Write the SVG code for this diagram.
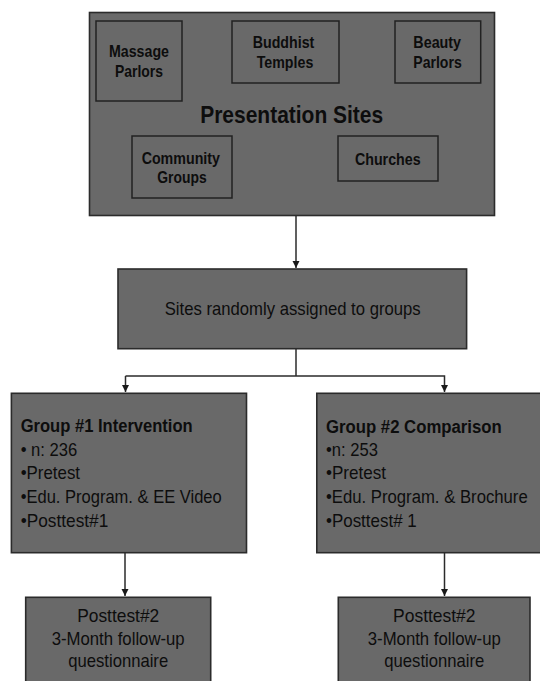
<svg xmlns="http://www.w3.org/2000/svg" width="540" height="681" viewBox="0 0 540 681">
<defs>
<style>
.box{fill:#696969;stroke:#2b2b2b;stroke-width:1.6}
.inner{fill:#696969;stroke:#222;stroke-width:1.5}
.t{font-family:"Liberation Sans",Arial,sans-serif;fill:#0d0d0d}
.c{text-anchor:middle}
.lbl{font-size:17px;font-weight:bold}
.reg{font-size:19px}
.b{font-weight:bold}
.conn{fill:none;stroke:#2b2b2b;stroke-width:1.5}
</style>
<marker id="ah" markerUnits="userSpaceOnUse" markerWidth="8" markerHeight="9" refX="7" refY="4" orient="auto">
<path d="M0,0.5 L7,4 L0,7.5 Z" fill="#1a1a1a"/>
</marker>
</defs>
<rect width="540" height="681" fill="#fff"/>

<g id="connectors">
<line class="conn" x1="296" y1="216" x2="296" y2="268" marker-end="url(#ah)"/>
<polyline class="conn" points="296,349 296,376"/>
<polyline class="conn" points="125.5,376 444.5,376 444.5,392" marker-end="url(#ah)"/>
<line class="conn" x1="125.5" y1="376" x2="125.5" y2="392" marker-end="url(#ah)"/>
<line class="conn" x1="125" y1="553" x2="125" y2="596" marker-end="url(#ah)"/>
<line class="conn" x1="444.5" y1="553" x2="444.5" y2="596" marker-end="url(#ah)"/>
</g>

<g id="presentation-sites">
<rect class="box" x="89.5" y="12.5" width="405" height="203"/>
<text class="t c b" x="291.7" y="123.3" font-size="24" textLength="183" lengthAdjust="spacingAndGlyphs">Presentation Sites</text>
</g>
<g id="massage-parlors">
<rect class="inner" x="96" y="21" width="86" height="80"/>
<text class="t c lbl" x="139" y="57" textLength="60" lengthAdjust="spacingAndGlyphs">Massage</text>
<text class="t c lbl" x="139" y="77" textLength="48" lengthAdjust="spacingAndGlyphs">Parlors</text>
</g>
<g id="buddhist-temples">
<rect class="inner" x="232" y="21" width="107" height="62"/>
<text class="t c lbl" x="283.5" y="48.3" textLength="61.6" lengthAdjust="spacingAndGlyphs">Buddhist</text>
<text class="t c lbl" x="285" y="68.3" textLength="56.6" lengthAdjust="spacingAndGlyphs">Temples</text>
</g>
<g id="beauty-parlors">
<rect class="inner" x="395" y="21" width="85.7" height="62"/>
<text class="t c lbl" x="437.2" y="48.3" textLength="47.7" lengthAdjust="spacingAndGlyphs">Beauty</text>
<text class="t c lbl" x="437.5" y="67.7" textLength="48.4" lengthAdjust="spacingAndGlyphs">Parlors</text>
</g>
<g id="community-groups">
<rect class="inner" x="132" y="136" width="100" height="62"/>
<text class="t c lbl" x="180.8" y="164.3" textLength="78.3" lengthAdjust="spacingAndGlyphs">Community</text>
<text class="t c lbl" x="182" y="183.3" textLength="49.4" lengthAdjust="spacingAndGlyphs">Groups</text>
</g>
<g id="churches">
<rect class="inner" x="338" y="136" width="100" height="45"/>
<text class="t c lbl" x="387.8" y="165" textLength="65.7" lengthAdjust="spacingAndGlyphs">Churches</text>
</g>

<g id="random-assign">
<rect class="box" x="118" y="269" width="348.6" height="79.7"/>
<text class="t c" x="292.7" y="315" font-size="19" textLength="256" lengthAdjust="spacingAndGlyphs">Sites randomly assigned to groups</text>
</g>

<g id="group1">
<rect class="box" x="11.4" y="393.3" width="235.1" height="159.4"/>
<text class="t b" x="20.7" y="431.7" font-size="18" textLength="172" lengthAdjust="spacingAndGlyphs">Group #1 Intervention</text>
<text class="t reg" x="20.7" y="455.7" textLength="56.6" lengthAdjust="spacingAndGlyphs">• n: 236</text>
<text class="t reg" x="20.7" y="479.3" textLength="59.3" lengthAdjust="spacingAndGlyphs">•Pretest</text>
<text class="t reg" x="20.7" y="502.7" textLength="201" lengthAdjust="spacingAndGlyphs">•Edu. Program. &amp; EE Video</text>
<text class="t reg" x="20.7" y="527.3" textLength="87.6" lengthAdjust="spacingAndGlyphs">•Posttest#1</text>
</g>

<g id="group2">
<rect class="box" x="316.8" y="393.3" width="230" height="159.4"/>
<text class="t b" x="326" y="432.5" font-size="18" textLength="175.7" lengthAdjust="spacingAndGlyphs">Group #2 Comparison</text>
<text class="t reg" x="326" y="456" textLength="52" lengthAdjust="spacingAndGlyphs">•n: 253</text>
<text class="t reg" x="326" y="479.3" textLength="60" lengthAdjust="spacingAndGlyphs">•Pretest</text>
<text class="t" x="326" y="503" font-size="17.6" textLength="201.7" lengthAdjust="spacingAndGlyphs">•Edu. Program. &amp; Brochure</text>
<text class="t reg" x="326" y="527" textLength="90.7" lengthAdjust="spacingAndGlyphs">•Posttest# 1</text>
</g>

<g id="followup1">
<rect class="box" x="25.7" y="597.3" width="185" height="100"/>
<text class="t c reg" x="118.2" y="621.7" font-size="19.5" textLength="82" lengthAdjust="spacingAndGlyphs">Posttest#2</text>
<text class="t c reg" x="118.2" y="645" font-size="19.5" textLength="133" lengthAdjust="spacingAndGlyphs">3-Month follow-up</text>
<text class="t c reg" x="118.2" y="667" font-size="19.5" textLength="100" lengthAdjust="spacingAndGlyphs">questionnaire</text>
</g>

<g id="followup2">
<rect class="box" x="338.3" y="597.3" width="191.7" height="100"/>
<text class="t c reg" x="434.3" y="621.7" font-size="19.5" textLength="82.4" lengthAdjust="spacingAndGlyphs">Posttest#2</text>
<text class="t c reg" x="434.3" y="645" font-size="19.5" textLength="133" lengthAdjust="spacingAndGlyphs">3-Month follow-up</text>
<text class="t c reg" x="434.3" y="667" font-size="19.5" textLength="100" lengthAdjust="spacingAndGlyphs">questionnaire</text>
</g>
</svg>
